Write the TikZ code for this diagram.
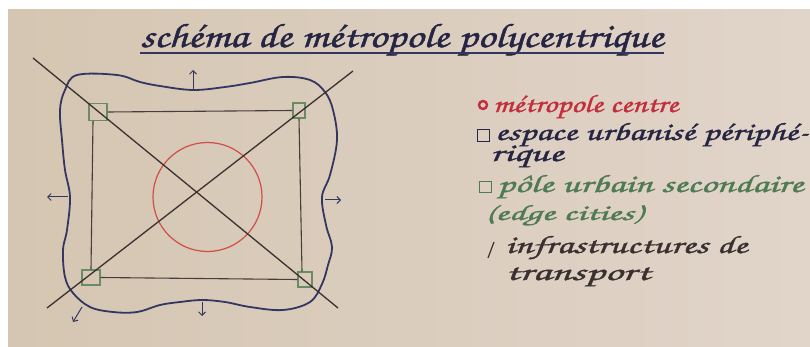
\documentclass[tikz,border=0pt]{standalone}
\usepackage{fontspec}
\usetikzlibrary{arrows.meta}
\IfFontExistsTF{TeX Gyre Chorus}{\newfontfamily\handfont[AutoFakeBold=1.2]{TeX Gyre Chorus}}{\newcommand\handfont{\itshape}}
\newsavebox\fitbox
\newcommand\fitw[2]{\sbox\fitbox{#2}\pgfmathsetmacro\fitsx{#1/\the\wd\fitbox}\scalebox{\fitsx}[1]{\usebox\fitbox}}
\definecolor{paperL}{RGB}{213,198,178}
\definecolor{paperR}{RGB}{225,212,201}
\definecolor{navy}{RGB}{52,54,98}
\definecolor{ink}{RGB}{58,48,48}
\definecolor{pencil}{RGB}{70,62,60}
\definecolor{sqgreen}{RGB}{105,140,100}
\definecolor{cred}{RGB}{208,78,72}
\definecolor{txtred}{RGB}{195,45,60}
\definecolor{txtgreen}{RGB}{78,122,84}
\definecolor{txtnavy}{RGB}{38,38,68}
\tikzset{
  lbl/.style={anchor=base west, inner sep=0pt, font=\handfont\bfseries\fontsize{25}{29}\selectfont},
  ttl/.style={anchor=base west, inner sep=0pt, font=\handfont\bfseries\fontsize{34}{40}\selectfont},
  blob/.style={draw=navy, line width=1.8pt, line join=round},
  diag/.style={draw=ink, line width=1.3pt},
  rectedge/.style={draw=pencil, line width=1.1pt},
  edgecity/.style={draw=sqgreen, line width=1.2pt, inner sep=0pt},
  pusharrow/.style={draw=navy, line width=1pt, -{Straight Barb[length=3.5pt,width=7pt]}},
}
\begin{document}
\begin{tikzpicture}[x=1pt,y=-1pt]
\useasboundingbox (0,0) rectangle (810,347);
\fill[white] (0,0) rectangle (810,347);
\shade[left color=paperL, right color=paperR] (8,10) rectangle (810,347);

% title
\node[ttl, text=txtnavy] (title) at (140,47) {\fitw{523pt}{schéma de métropole polycentrique}};
\coordinate (ulA) at (140,53);
\coordinate (ulB) at (664,53);
\draw[navy, line width=2.4pt] (ulA) -- (ulB);

% peri-urban space (blob)
\draw[blob] plot[smooth cycle, tension=0.6] coordinates {
(77,75) (117,75) (140,82) (160,86) (193,90) (225,87) (250,83) (283,77) (310,80) (325,92) (333,110)
(337,140) (330,175) (322,197) (326,225) (332,247) (328,265) (322,284) (310,302) (283,310) (250,307)
(225,302) (202,300) (180,302) (160,305) (137,312) (113,312) (90,307) (73,293) (65,277) (63,250)
(67,230) (70,197) (65,170) (62,140) (60,110) (65,90)};

% centre
\node[circle, draw=cred, line width=1.2pt, minimum size=109pt, inner sep=0pt] (centre) at (207.5,197) {};

% edge cities
\node[edgecity, minimum width=18pt, minimum height=17pt] (tl) at (98,112) {};
\node[edgecity, minimum width=12pt, minimum height=15pt] (tr) at (299,110.5) {};
\node[edgecity, minimum width=18pt, minimum height=15pt] (bl) at (91,277.5) {};
\node[edgecity, minimum width=14pt, minimum height=15pt] (br) at (305,279.5) {};

% links between edge cities
\draw[rectedge] (tl.east) -- (tr.west);
\draw[rectedge] ([xshift=-5pt]tl.south) -- (bl.north);
\draw[rectedge] (tr.south) -- ([xshift=-3pt]br.north);
\draw[rectedge] (bl.east) -- (br.west);

% transport axes
\coordinate (d1a) at (33,58);
\coordinate (d1b) at (338,308);
\coordinate (d2a) at (353,71);
\coordinate (d2b) at (47,308);
\draw[diag] (d1a) -- (d1b);
\draw[diag] (d2a) -- (d2b);

% growth arrows
\coordinate (upA) at (193,90);   \coordinate (upB) at (193,70);
\coordinate (lfA) at (68,197);   \coordinate (lfB) at (47,197);
\coordinate (rtA) at (325,200);  \coordinate (rtB) at (341,200);
\coordinate (dnA) at (202,302);  \coordinate (dnB) at (202,316);
\coordinate (dlA) at (82,307);   \coordinate (dlB) at (73,322);
\draw[pusharrow] (upA) -- (upB);
\draw[pusharrow] (lfA) -- (lfB);
\draw[pusharrow] (rtA) -- (rtB);
\draw[pusharrow] (dnA) -- (dnB);
\draw[pusharrow] (dlA) -- (dlB);

% legend
\node[circle, draw=txtred, line width=2.4pt, minimum size=8pt, inner sep=0pt] (sym1) at (483,105) {};
\node[lbl, text=txtred] (l1) at (493,112) {\fitw{185pt}{métropole centre}};
\node[draw=txtnavy, line width=1pt, minimum width=12pt, minimum height=12pt, inner sep=0pt] (sym2) at (483.5,136) {};
\node[lbl, text=txtnavy] (l2) at (495,140) {\fitw{313pt}{espace urbanisé périphé-}};
\node[lbl, text=txtnavy] (l2b) at (490,161) {\fitw{73pt}{rique}};
\node[draw=txtgreen, line width=1pt, minimum width=12pt, minimum height=11pt, inner sep=0pt] (sym3) at (485.5,187.5) {};
\node[lbl, text=txtgreen] (l3) at (497,192) {\fitw{306pt}{pôle urbain secondaire}};
\node[lbl, text=txtgreen, font=\handfont\bfseries\fontsize{22}{26}\selectfont] (l3b) at (485,220) {\fitw{157pt}{(edge cities)}};
\coordinate (slA) at (488,258);
\coordinate (slB) at (494,242);
\draw[ink, line width=1.2pt] (slA) -- (slB);
\node[lbl, text=ink] (l4) at (505,253) {\fitw{242pt}{infrastructures de}};
\node[lbl, text=ink] (l4b) at (505,280) {\fitw{145pt}{transport}};
\end{tikzpicture}
\end{document}
